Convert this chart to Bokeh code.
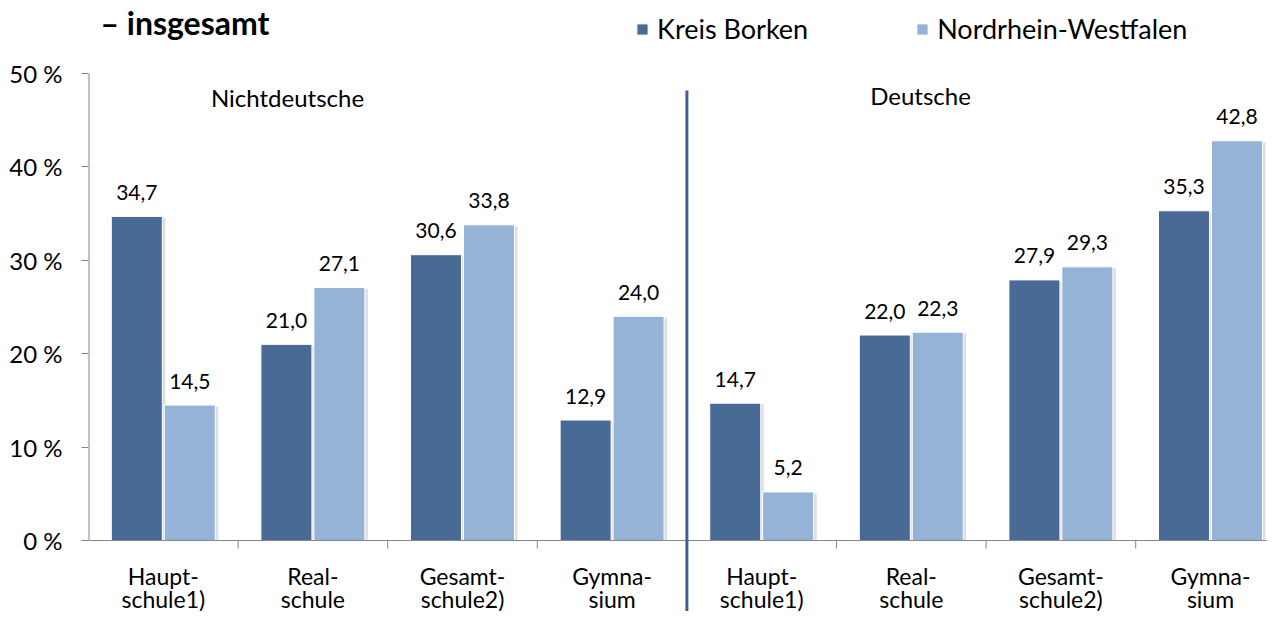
from bokeh.plotting import figure
from bokeh.models import (Range1d, FixedTicker, ColumnDataSource, Legend, LegendItem)
from bokeh.core.properties import value
from bokeh.embed import file_html
from bokeh.resources import INLINE

# ---- data ----
categories = ["Haupt-\nschule1)", "Real-\nschule", "Gesamt-\nschule2)", "Gymna-\nsium",
              "Haupt-\nschule1)", "Real-\nschule", "Gesamt-\nschule2)", "Gymna-\nsium"]
groups = ["Nichtdeutsche", "Deutsche"]
kreis_borken = [34.7, 21.0, 30.6, 12.9, 14.7, 22.0, 27.9, 35.3]
nrw = [14.5, 27.1, 33.8, 24.0, 5.2, 22.3, 29.3, 42.8]
series_names = ["Kreis Borken", "Nordrhein-Westfalen"]
y_ticks = [0, 10, 20, 30, 40, 50]
y_tick_labels = ["0 %", "10 %", "20 %", "30 %", "40 %", "50 %"]
title_text = "– insgesamt"

# ---- layout constants (pixels, picture coordinates) ----
W, H = 1267, 611
PAGE = 0
FRAME_LEFT = 88
Y0_PX, Y50_PX = 540, 73
CAT_W = 149.6
S = (Y0_PX - Y50_PX) / 50.0

y_top = 50 + (Y50_PX - PAGE) / S
y_bot = -(PAGE + H - Y0_PX) / S
x_end = (PAGE + W - FRAME_LEFT) / CAT_W

FONT = "Lato"
DARK = "#4A6A96"
LIGHT = "#95B3D7"
AXIS_C = "#868686"

p = figure(width=W, height=H, output_backend="svg", toolbar_location=None,
           x_range=Range1d(0, x_end), y_range=Range1d(y_bot, y_top),
           x_axis_location=None, min_border_left=FRAME_LEFT - PAGE,
           min_border_right=0, min_border_top=0, min_border_bottom=0)
p.outline_line_color = None
p.grid.visible = False
p.background_fill_color = "white"
p.border_fill_color = "white"

n = len(categories)
centers = [i + 0.5 for i in range(n)]
off = 0.177
bw = 51 / CAT_W
sh_dx = 3 / CAT_W

src = ColumnDataSource(dict(
    xk=[c - off for c in centers], xn=[c + off for c in centers],
    xks=[c - off + sh_dx for c in centers], xns=[c + off + sh_dx for c in centers],
    k=kreis_borken, nv=nrw,
    ks=[v - 0.15 for v in kreis_borken], ns=[v - 0.15 for v in nrw],
    kl=[f"{v:.1f}".replace(".", ",") for v in kreis_borken],
    nl=[f"{v:.1f}".replace(".", ",") for v in nrw],
))

# shadows
p.vbar(x="xks", top="ks", bottom=0, width=bw, source=src, fill_color="black",
       fill_alpha=0.13, line_color=None)
p.vbar(x="xns", top="ns", bottom=0, width=bw, source=src, fill_color="black",
       fill_alpha=0.13, line_color=None)
rk = p.vbar(x="xk", top="k", bottom=0, width=bw, source=src, fill_color=DARK,
            line_color="white", line_width=1)
rn = p.vbar(x="xn", top="nv", bottom=0, width=bw, source=src, fill_color=LIGHT,
            line_color="white", line_width=1)

# value labels
for xcol, ycol, lcol in (("xk", "k", "kl"), ("xn", "nv", "nl")):
    p.text(x=xcol, y=ycol, text=lcol, source=src, text_align="center",
           text_baseline="middle", y_offset=-24, text_font=value(FONT),
           text_font_size="21px", text_color="#000000")

# axes lines
p.segment(x0=[0], y0=[0], x1=[0], y1=[50], line_color=AXIS_C, line_width=2)
p.segment(x0=[0], y0=[0], x1=[x_end], y1=[0], line_color=AXIS_C, line_width=1)
tick_len = 8 / S
p.segment(x0=list(range(1, n + 1)), y0=[0] * n, x1=list(range(1, n + 1)),
          y1=[-tick_len] * n, line_color=AXIS_C, line_width=1)

# category labels
line1 = [c.split("\n")[0] for c in categories]
line2 = [c.split("\n")[1] for c in categories]
p.text(x=centers, y=[-(575 - Y0_PX) / S] * n, text=line1, text_align="center",
       text_baseline="middle", text_font=value(FONT), text_font_size="23px",
       text_color="#000000")
p.text(x=centers, y=[-(598 - Y0_PX) / S] * n, text=line2, text_align="center",
       text_baseline="middle", text_font=value(FONT), text_font_size="23px",
       text_color="#000000")

# divider between groups
p.segment(x0=[4], y0=[-(612 - Y0_PX) / S], x1=[4], y1=[(Y0_PX - 90) / S],
          line_color="#3D6194", line_width=3)

# group labels
p.text(x=[(287 - FRAME_LEFT) / CAT_W, (920 - FRAME_LEFT) / CAT_W],
       y=[(Y0_PX - 97) / S, (Y0_PX - 95) / S], text=groups, text_align="center",
       text_baseline="middle", text_font=value(FONT), text_font_size="24px",
       text_color="#000000")

# title fragment
p.text(x=[(100 - FRAME_LEFT) / CAT_W], y=[(Y0_PX - 22) / S], text=[title_text],
       text_align="left", text_baseline="middle", text_font=value(FONT),
       text_font_size="32px", text_font_style="bold", text_color="#000000")

# y axis
ax = p.yaxis[0]
ax.ticker = FixedTicker(ticks=y_ticks)
ax.major_label_overrides = {t: l for t, l in zip(y_ticks, y_tick_labels)}
ax.axis_line_color = None
ax.major_tick_out = 7
ax.major_tick_in = 0
ax.major_tick_line_color = AXIS_C
ax.minor_tick_line_color = None
ax.major_label_text_font = FONT
ax.major_label_text_font_size = "24px"
ax.major_label_text_color = "#000000"
ax.major_label_standoff = 19

# legend
legend = Legend(items=[LegendItem(label=series_names[0], renderers=[rk]),
                       LegendItem(label=series_names[1], renderers=[rn])],
                orientation="horizontal", location=(635 - FRAME_LEFT, H - 45),
                glyph_width=14, glyph_height=14, label_standoff=8, spacing=107,
                padding=0, margin=0, border_line_color=None,
                background_fill_alpha=0, label_text_font=FONT,
                label_text_font_size="27px", label_text_color="#000000")
p.add_layout(legend, "center")

open("out.html", "w").write(file_html(p, INLINE))
